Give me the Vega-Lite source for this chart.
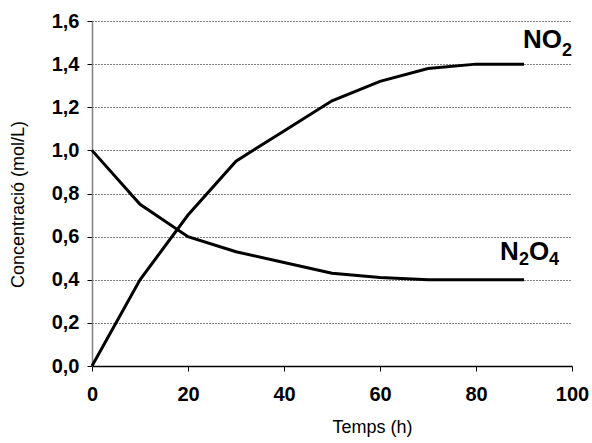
{
  "$schema": "https://vega.github.io/schema/vega-lite/v6.json",
  "width": 480,
  "height": 345,
  "autosize": "none",
  "padding": {"left": 92, "top": 21, "right": 20, "bottom": 77},
  "background": "white",
  "config": {
    "view": {"stroke": null},
    "font": "Liberation Sans",
    "axis": {"labelFont": "Liberation Sans", "titleFont": "Liberation Sans"},
    "text": {"font": "Liberation Sans", "fontWeight": "bold", "color": "black", "align": "left", "baseline": "alphabetic"}
  },
  "data": {
    "values": [
      {"series": "NO2", "t": 0, "c": 0.0},
      {"series": "NO2", "t": 10, "c": 0.4},
      {"series": "NO2", "t": 20, "c": 0.7},
      {"series": "NO2", "t": 30, "c": 0.95},
      {"series": "NO2", "t": 40, "c": 1.09},
      {"series": "NO2", "t": 50, "c": 1.23},
      {"series": "NO2", "t": 60, "c": 1.32},
      {"series": "NO2", "t": 70, "c": 1.38},
      {"series": "NO2", "t": 80, "c": 1.4},
      {"series": "NO2", "t": 90, "c": 1.4},
      {"series": "N2O4", "t": 0, "c": 1.0},
      {"series": "N2O4", "t": 10, "c": 0.75},
      {"series": "N2O4", "t": 20, "c": 0.6},
      {"series": "N2O4", "t": 30, "c": 0.53},
      {"series": "N2O4", "t": 40, "c": 0.48},
      {"series": "N2O4", "t": 50, "c": 0.43},
      {"series": "N2O4", "t": 60, "c": 0.41},
      {"series": "N2O4", "t": 70, "c": 0.4},
      {"series": "N2O4", "t": 80, "c": 0.4},
      {"series": "N2O4", "t": 90, "c": 0.4}
    ]
  },
  "encoding": {
    "x": {"field": "t", "type": "quantitative", "scale": {"domain": [0, 100], "nice": false}},
    "y": {"field": "c", "type": "quantitative", "scale": {"domain": [0, 1.6], "nice": false}}
  },
  "layer": [
    {
      "mark": {"type": "line", "color": "black", "strokeWidth": 3, "clip": false},
      "encoding": {
        "x": {
          "field": "t", "type": "quantitative",
          "scale": {"domain": [0, 100], "nice": false},
          "axis": {
            "values": [0, 20, 40, 60, 80, 100],
            "title": "Temps (h)",
            "titleFontSize": 18, "titleFontWeight": "normal", "titleColor": "black",
            "titleX": 280, "titleY": 61, "titleAlign": "center", "titleBaseline": "middle",
            "labelFontSize": 20, "labelFontWeight": "bold", "labelColor": "black", "labelPadding": 13,
            "labelFlush": false,
            "domainColor": "black", "domainWidth": 1.5,
            "tickColor": "black", "tickSize": 5, "tickWidth": 1,
            "grid": false
          }
        },
        "y": {
          "field": "c", "type": "quantitative",
          "scale": {"domain": [0, 1.6], "nice": false},
          "axis": {
            "values": [0, 0.2, 0.4, 0.6, 0.8, 1.0, 1.2, 1.4, 1.6],
            "labelExpr": "replace(format(datum.value, '.1f'), '.', ',')",
            "title": "Concentració (mol/L)",
            "titleFontSize": 18, "titleFontWeight": "normal", "titleColor": "black",
            "titleX": -74, "titleY": 183, "titleAlign": "center", "titleBaseline": "middle", "titleAngle": -90,
            "labelFontSize": 20, "labelFontWeight": "bold", "labelColor": "black", "labelPadding": 8,
            "labelFlush": false,
            "domainColor": "#808080", "domainWidth": 1.5,
            "tickColor": "black", "tickSize": 5, "tickWidth": 1,
            "grid": true, "gridColor": "black", "gridDash": [1, 2], "gridWidth": 1
          }
        },
        "detail": {"field": "series"}
      }
    },
    {
      "transform": [{"filter": "datum.t == 90 && datum.series == 'NO2'"}],
      "mark": {"type": "text", "text": "NO", "fontSize": 26, "dx": -1, "dy": -16}
    },
    {
      "transform": [{"filter": "datum.t == 90 && datum.series == 'NO2'"}],
      "mark": {"type": "text", "text": "2", "fontSize": 18, "dx": 38, "dy": -8}
    },
    {
      "transform": [{"filter": "datum.t == 90 && datum.series == 'N2O4'"}],
      "mark": {"type": "text", "text": "N", "fontSize": 26, "dx": -24, "dy": -20}
    },
    {
      "transform": [{"filter": "datum.t == 90 && datum.series == 'N2O4'"}],
      "mark": {"type": "text", "text": "2", "fontSize": 18, "dx": -5, "dy": -15}
    },
    {
      "transform": [{"filter": "datum.t == 90 && datum.series == 'N2O4'"}],
      "mark": {"type": "text", "text": "O", "fontSize": 26, "dx": 5, "dy": -20}
    },
    {
      "transform": [{"filter": "datum.t == 90 && datum.series == 'N2O4'"}],
      "mark": {"type": "text", "text": "4", "fontSize": 18, "dx": 25, "dy": -15}
    }
  ]
}
